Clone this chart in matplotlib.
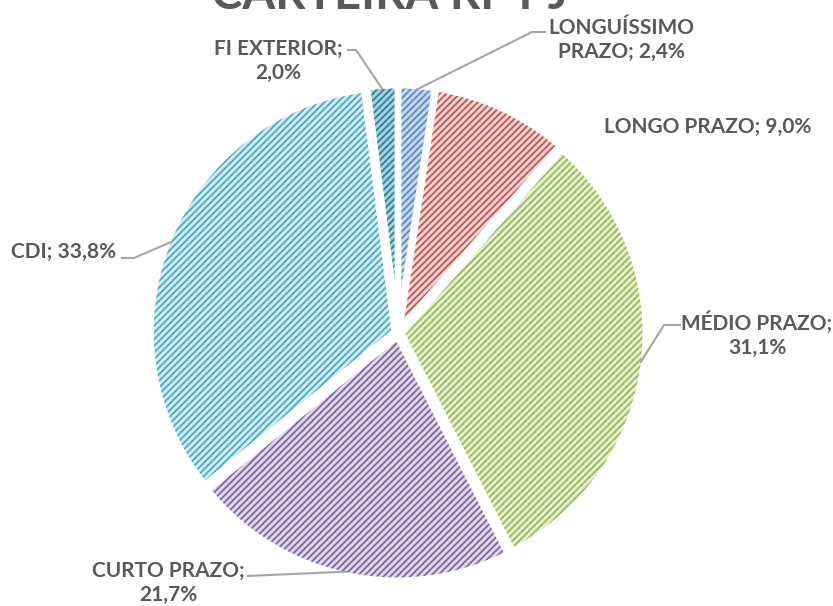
import numpy as np
import matplotlib.pyplot as plt

# data
categories = ['LONGUÍSSIMO PRAZO', 'LONGO PRAZO', 'MÉDIO PRAZO',
              'CURTO PRAZO', 'CDI', 'FI EXTERIOR']
shares = [2.4, 9.0, 31.1, 21.7, 33.8, 2.0]
label_texts = ['LONGUÍSSIMO\nPRAZO; 2,4%', 'LONGO PRAZO; 9,0%',
               'MÉDIO PRAZO;\n31,1%', 'CURTO PRAZO;\n21,7%',
               'CDI; 33,8%', 'FI EXTERIOR;\n2,0%']
title = 'CARTEIRA RF PJ'

# style
face_colors = ['#C6D8F0', '#F2D6D5', '#E4EED3', '#E0D9EA', '#D2EBF3', '#A3D3E0']
hatch_colors = ['#5A8AC8', '#C9514E', '#9BBB59', '#8064A2', '#4BACC6', '#2E7F93']
text_color = '#595959'
line_color = '#A6A6A6'

plt.rcParams['font.family'] = ['Lato', 'DejaVu Sans']
plt.rcParams['hatch.linewidth'] = 1.3

W, H = 833, 606
cx, cy, R = 398, 333, 244  # pie centre / radius in pixels


def px(x, y):
    """pixel (from top-left) -> data coords"""
    return (x - cx) / R, (cy - y) / R


# label block centres (pixels) and leader anchors (text end, elbow)
label_pos = [(621, 40), (708, 127), (757, 335), (168, 583), (64, 252), (278, 61)]
leaders = [[(546, 32), (532, 32)],
           None,
           [(681, 325), (664, 325)],
           [(247, 576)],
           [(121, 258), (134, 258)],
           [(347, 50), (356, 50)]]

fig = plt.figure(figsize=(W / 100, H / 100), dpi=100)
ax = fig.add_axes([0, 0, 1, 1])

explode = [0.015] * len(shares)
wedges, _ = ax.pie(shares, explode=explode, startangle=90, counterclock=False,
                   radius=1, wedgeprops=dict(linewidth=0))
for w, fc, hc in zip(wedges, face_colors, hatch_colors):
    w.set_facecolor(fc)
    w.set_edgecolor(hc)
    w.set_hatch('/////')

# white borders on top
ax.pie(shares, explode=explode, startangle=90, counterclock=False, radius=1,
       colors=['none'] * len(shares),
       wedgeprops=dict(linewidth=4.5, edgecolor='white', fill=False))

for w, txt, pos, lead in zip(wedges, label_texts, label_pos, leaders):
    tx, ty = px(*pos)
    ax.text(tx, ty, txt, ha='center', va='center', fontsize=15,
            fontweight='bold', color=text_color, linespacing=1.25)
    if lead is None:
        continue
    mid = np.deg2rad((w.theta1 + w.theta2) / 2)
    wx = w.center[0] + w.r * 0.985 * np.cos(mid)
    wy = w.center[1] + w.r * 0.985 * np.sin(mid)
    pts = [px(*p) for p in lead] + [(wx, wy)]
    ax.plot([p[0] for p in pts], [p[1] for p in pts], color=line_color,
            lw=1.5, solid_capstyle='butt', zorder=1)

# title, mostly cut off at the top edge
tx, ty = px(390, 9)
ax.text(tx, ty, title, ha='center', va='baseline', fontsize=34,
        fontweight='bold', color=text_color)

ax.set_xlim(px(0, 0)[0], px(W, 0)[0])
ax.set_ylim(px(0, H)[1], px(0, 0)[1])
ax.set_aspect('auto')
ax.axis('off')

fig.savefig('out.png', dpi=100)
